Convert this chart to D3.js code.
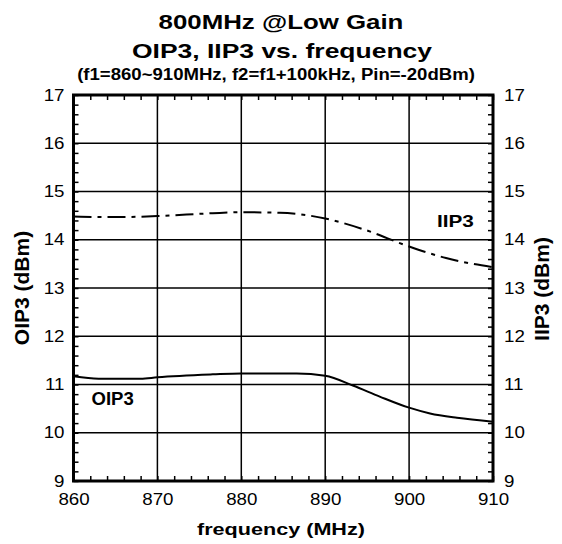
<!DOCTYPE html>
<html>
<head>
<meta charset="utf-8">
<script src="https://cdn.jsdelivr.net/npm/d3@7"></script>
<style>
  html, body { margin: 0; padding: 0; background: #fff; }
  svg { display: block; font-family: "Liberation Sans", Arial, sans-serif; }
</style>
</head>
<body>
<svg id="chart" width="562" height="544"></svg>
<script>
// ---- data ----
const titleLines = ["800MHz @Low Gain", "OIP3, IIP3 vs. frequency", "(f1=860~910MHz, f2=f1+100kHz, Pin=-20dBm)"];
const xTicks = [860, 870, 880, 890, 900, 910];
const yTicks = [9, 10, 11, 12, 13, 14, 15, 16, 17];
const oip3Freq = [860, 863, 868, 870, 876.6, 880, 886.6, 890, 893.3, 896.5, 900, 902.5, 905.7, 910];
const oip3Vals = [11.17, 11.12, 11.12, 11.15, 11.21, 11.23, 11.23, 11.18, 10.98, 10.75, 10.52, 10.40, 10.31, 10.23];
const iip3Freq = [860, 865, 870, 876.6, 880, 884.6, 890, 894.5, 900, 904.4, 910];
const iip3Vals = [14.48, 14.47, 14.49, 14.55, 14.57, 14.56, 14.44, 14.22, 13.86, 13.62, 13.43];

const svg = d3.select("#chart");
const L = 73.5, R = 493, T = 95, B = 481;
const x = d3.scaleLinear().domain([860, 910]).range([L, R]);
const yL = d3.scaleLinear().domain([9, 17]).range([B, T]);
const yR = d3.scaleLinear().domain([9, 17]).range([B, T]);

// stretch text horizontally (reference glyphs are wider than tall)
function stretch(sel, k) {
  sel.each(function () {
    const w = this.getComputedTextLength();
    d3.select(this).attr("textLength", w * k).attr("lengthAdjust", "spacingAndGlyphs");
  });
}

// title
const titleSizes = [21, 21, 16];
const titleY = [29, 58, 80];
const titleX = [281, 282, 276];
const titleK = [1.23, 1.26, 1.16];
titleLines.forEach((t, i) => {
  svg.append("text").attr("x", titleX[i]).attr("y", titleY[i])
    .attr("text-anchor", "middle").attr("font-weight", "bold")
    .attr("font-size", titleSizes[i]).text(t).call(stretch, titleK[i]);
});

// grid
const g = svg.append("g");
g.selectAll(".vg").data(xTicks.slice(1, -1)).enter().append("line")
  .attr("x1", d => x(d)).attr("x2", d => x(d)).attr("y1", T).attr("y2", B)
  .attr("stroke", "#000").attr("stroke-width", 1.5);
g.selectAll(".hg").data(yTicks.slice(1, -1)).enter().append("line")
  .attr("y1", d => yL(d)).attr("y2", d => yL(d)).attr("x1", L).attr("x2", R)
  .attr("stroke", "#000").attr("stroke-width", 1.5);

// minor ticks via axes (inside)
const xMinor = d3.range(860, 911, 2);
const yMinor = d3.range(9, 17.01, 0.2);
const tickLen = 5;
svg.append("g").attr("transform", `translate(0,${B})`)
  .call(d3.axisTop(x).tickValues(xMinor).tickSize(tickLen).tickFormat(""))
  .call(a => a.select(".domain").remove())
  .selectAll("line").attr("stroke-width", 1.5);
svg.append("g").attr("transform", `translate(0,${T})`)
  .call(d3.axisBottom(x).tickValues(xMinor).tickSize(tickLen).tickFormat(""))
  .call(a => a.select(".domain").remove())
  .selectAll("line").attr("stroke-width", 1.5);
svg.append("g").attr("transform", `translate(${L},0)`)
  .call(d3.axisRight(yL).tickValues(yMinor).tickSize(tickLen).tickFormat(""))
  .call(a => a.select(".domain").remove())
  .selectAll("line").attr("stroke-width", 1.5);
svg.append("g").attr("transform", `translate(${R},0)`)
  .call(d3.axisLeft(yR).tickValues(yMinor).tickSize(tickLen).tickFormat(""))
  .call(a => a.select(".domain").remove())
  .selectAll("line").attr("stroke-width", 1.5);

// tick labels via axes
function styleLabels(a) {
  a.select(".domain").remove();
  a.selectAll("line").remove();
  a.selectAll("text").attr("font-size", 16).attr("fill", "#000")
    .attr("font-family", "Liberation Sans, Arial, sans-serif")
    .call(stretch, 1.17);
}
svg.append("g").attr("transform", `translate(0,${B})`)
  .call(d3.axisBottom(x).tickValues(xTicks).tickSize(0).tickPadding(13).tickFormat(d3.format("d")))
  .call(styleLabels);
svg.append("g").attr("transform", `translate(${L},0)`)
  .call(d3.axisLeft(yL).tickValues(yTicks).tickSize(0).tickPadding(9).tickFormat(d3.format("d")))
  .call(styleLabels);
svg.append("g").attr("transform", `translate(${R},0)`)
  .call(d3.axisRight(yR).tickValues(yTicks).tickSize(0).tickPadding(11).tickFormat(d3.format("d")))
  .call(styleLabels);

// OIP3 label with white box
svg.append("rect").attr("x", 86).attr("y", 387).attr("width", 54).attr("height", 21).attr("fill", "#fff");
svg.append("text").attr("x", 91.5).attr("y", 405).attr("font-weight", "bold").attr("font-size", 18)
  .text("OIP3").call(stretch, 1.03);
svg.append("text").attr("x", 437).attr("y", 227).attr("font-weight", "bold").attr("font-size", 17)
  .text("IIP3").call(stretch, 1.22);

// lines
const lineL = d3.line().x(d => x(d[0])).y(d => yL(d[1])).curve(d3.curveMonotoneX);
const lineR = d3.line().x(d => x(d[0])).y(d => yR(d[1])).curve(d3.curveMonotoneX);
svg.append("path").datum(oip3Freq.map((f, i) => [f, oip3Vals[i]]))
  .attr("d", lineL).attr("fill", "none").attr("stroke", "#000").attr("stroke-width", 2);
svg.append("path").datum(iip3Freq.map((f, i) => [f, iip3Vals[i]]))
  .attr("d", lineR).attr("fill", "none").attr("stroke", "#000").attr("stroke-width", 2)
  .attr("stroke-dasharray", "18,6,4,6");

// frame
svg.append("rect").attr("x", L).attr("y", T).attr("width", R - L).attr("height", B - T)
  .attr("fill", "none").attr("stroke", "#000").attr("stroke-width", 3);

// axis titles
svg.append("text").attr("x", 281).attr("y", 535).attr("text-anchor", "middle")
  .attr("font-weight", "bold").attr("font-size", 17).text("frequency (MHz)").call(stretch, 1.27);
svg.append("text").attr("transform", `translate(29,${(T + B) / 2}) rotate(-90)`)
  .attr("text-anchor", "middle").attr("font-weight", "bold").attr("font-size", 21).text("OIP3 (dBm)");
svg.append("text").attr("transform", `translate(549,${(T + B) / 2 + 1}) rotate(-90)`)
  .attr("text-anchor", "middle").attr("font-weight", "bold").attr("font-size", 21).text("IIP3 (dBm)");
</script>
</body>
</html>
